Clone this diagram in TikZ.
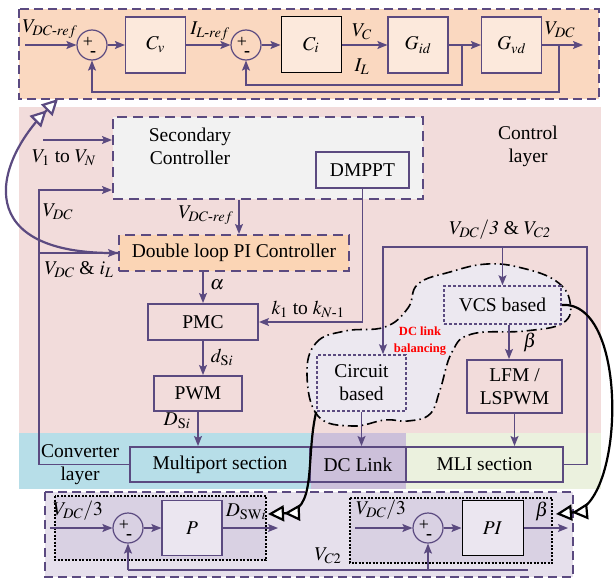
\documentclass[tikz,border=0pt]{standalone}
\usepackage{amsmath}
\usepackage{mathptmx}
\usepackage{fontspec}
\setmainfont{Liberation Serif}
\usetikzlibrary{arrows.meta}
\definecolor{linepurple}{HTML}{5B4A80}
\definecolor{peach}{HTML}{FAD8C0}
\definecolor{tfbox}{HTML}{FCE9DC}
\definecolor{pinkbg}{HTML}{F2DCDB}
\definecolor{secgray}{HTML}{F2F2F2}
\definecolor{orangebox}{HTML}{FBD5B5}
\definecolor{cyanbg}{HTML}{B7DEE8}
\definecolor{lilacbg}{HTML}{CCC0DA}
\definecolor{greenbg}{HTML}{EBF1DE}
\definecolor{blobfill}{HTML}{ECE8F0}
\definecolor{botfill}{HTML}{E6E0EC}
\definecolor{innerfill}{HTML}{D9D1E3}
\definecolor{pbox}{HTML}{EBE6F0}

\begin{document}
\begin{tikzpicture}[x=1pt,y=-1pt,
  font=\fontsize{19.5}{23}\selectfont,
  arr/.style={draw=linepurple,line width=1.3pt,-{Stealth[length=10pt,width=8pt,inset=2pt]}},
  blk/.style={draw=linepurple,line width=2pt,fill=pinkbg,minimum height=35pt,inner sep=0pt},
  tf/.style={draw=linepurple,line width=1.2pt,fill=tfbox,minimum width=60pt,minimum height=56pt,inner sep=0pt},
  sum/.style={circle,draw=linepurple,line width=1.2pt,minimum size=30pt,inner sep=0pt},
  sign/.style={inner sep=0pt,font=\fontsize{18}{20}\selectfont},
  cloudbox/.style={draw=linepurple,line width=1.6pt,dash pattern=on 3pt off 2pt,fill=blobfill,inner sep=0pt,align=center},
  link/.style={line width=2.2pt,-{Triangle[fill=white,length=16pt,width=16pt]Triangle[fill=white,length=16pt,width=16pt]}},
  frame/.style={draw=linepurple,line width=1.6pt,dash pattern=on 9pt off 5pt}]
  \useasboundingbox (0,0) rectangle (616,578);
  \draw[frame,fill=peach] (19,9) rectangle (599,99);
  \node[sum] (s1) at (92,45) {};
  \node[tf] (cv) at (155.5,45) {$C_v$};
  \node[sum] (s2) at (246,45) {};
  \node[tf,draw=black,line width=1pt] (ci) at (311,45) {$C_i$};
  \node[tf] (gid) at (418,45) {$G_{id}$};
  \node[tf] (gvd) at (511.5,45) {$G_{vd}$};
  \coordinate (vin) at (25,45);
  \coordinate (vout) at (583,45);
  \coordinate (fbi) at (462,85);
  \coordinate (fbv) at (559,92);
  \draw[arr] (vin) -- (s1);
  \draw[arr] (s1) -- (cv);
  \draw[arr] (cv) -- (s2);
  \draw[arr] (s2) -- (ci);
  \draw[arr] (ci) -- (gid);
  \draw[arr] (gid) -- (gvd);
  \draw[arr] (gvd) -- (vout);
  \draw[arr] (fbi |- gid) -- (fbi) -| (s2);
  \draw[arr] (fbv |- gvd) -- (fbv) -| (s1);
  \node (lvref) at (50,29) {$V_{DC\text{-}ref}$};
  \node (lilref) at (210,31) {$I_{L\text{-}ref}$};
  \node (lvc) at (362,32) {$V_C$};
  \node (lil) at (362,67) {$I_L$};
  \node (lvdc) at (560,30) {$V_{DC}$};

  \fill[pinkbg] (19,107) rectangle (601,433);
  \fill[cyanbg] (19,433) rectangle (311,489);
  \fill[lilacbg] (311,433) rectangle (406,489);
  \fill[greenbg] (406,433) rectangle (601,489);
  \draw[black,line width=1.6pt,dash pattern=on 10pt off 4pt on 1.5pt off 4pt,fill=blobfill] plot[smooth cycle,tension=0.7]
    coordinates {(307,375) (316,343) (345,331) (385,327) (408,308) (418,284) (450,272) (487,264) (522,268) (556,281) (570,302) (563,323) (525,331) (472,334) (452,352) (440,390) (430,414) (408,421) (385,420) (352,426) (318,416)};
  \node[text=red,font={\fontsize{12.5}{17}\selectfont\bfseries},align=center] (bal) at (420,341) {DC link\\balancing};
  \node[draw=linepurple,line width=2pt,dash pattern=on 10pt off 6pt,fill=secgray,minimum width=310pt,minimum height=82pt] (sec) at (268,158) {};
  \node[align=center] (sectext) at (190,146) {Secondary\\Controller};
  \node[blk,fill=secgray,minimum width=93pt,minimum height=36pt] (dmppt) at (362.5,170) {DMPPT};
  \node[align=center] (ctrl) at (528,146) {Control\\layer};
  \node[blk,fill=orangebox,dash pattern=on 10pt off 6pt,minimum width=230pt,minimum height=36pt] (dloop) at (234,253) {Double loop PI Controller};
  \node[blk,minimum width=110pt,minimum height=36pt] (pmc) at (203,322) {PMC};
  \node[blk,minimum width=88pt] (pwm) at (198,393.5) {PWM};
  \node[blk,fill=cyanbg,minimum width=180pt] (multi) at (220,464.5) {Multiport section};
  \node[blk,fill=lilacbg,minimum width=96pt] (dclink) at (358,464.5) {DC Link};
  \node[blk,fill=greenbg,minimum width=157pt] (mli) at (484.5,464.5) {MLI section};
  \node[cloudbox,minimum width=117pt,minimum height=38pt] (vcs) at (502.5,305) {VCS based};
  \node[cloudbox,minimum width=89pt,minimum height=56pt] (circ) at (361.5,383) {Circuit\\based};
  \node[blk,align=center,minimum width=95pt,minimum height=53pt] (lfm) at (514.5,386.5) {LFM /\\LSPWM};
  \node[align=center] (convl) at (80,465) {Converter\\layer};
  \coordinate (v1in) at (43,140);
  \coordinate (vfb) at (39,190);
  \coordinate (rtop) at (587,247);
  \coordinate (ltop) at (383,247);
  \draw[arr] (v1in) -- (v1in -| sec.west);
  \draw[arr] (multi.west) -| (vfb) -- (vfb -| sec.west);
  \draw[arr] (vfb |- dloop.west) -- (dloop.west);
  \draw[arr] (sec.south -| 239,0) -- (dloop.north -| 239,0);
  \draw[arr] (pmc.north |- dloop.south) -- (pmc.north);
  \draw[arr] (dmppt.south) |- (pmc.east);
  \draw[arr] (pmc.south) -- (pmc.south |- pwm.north);
  \draw[arr] (pwm.south) -- (pwm.south |- multi.north);
  \draw[arr] (mli.east) -| (rtop) -- (ltop) -- (ltop |- circ.north);
  \draw[arr] (vcs.north |- ltop) -- (vcs.north);
  \draw[arr] (vcs.south -| 509,0) -- (lfm.north -| 509,0);
  \draw[arr] (lfm.south) -- (lfm.south |- mli.north);
  \draw[arr] (circ.south) -- (circ.south |- dclink.north);
  \node (lv1) at (64,158) {$V_1$ to $V_N$};
  \node (lvdcfb) at (58,212) {$V_{DC}$};
  \node (lvdcil) at (79,270) {$V_{DC}$ \& $i_L$};
  \node (lvref2) at (206,215) {$V_{DC\text{-}ref}$};
  \node (lalpha) at (217,285) {$\alpha$};
  \node (lk) at (308,309) {$k_1$ to $k_{N\text{-}1}$};
  \node (ldsi) at (222,357) {$d_{\mathrm{S}i}$};
  \node (lDsi) at (177,421) {$D_{\mathrm{S}i}$};
  \node (lvdc3) at (500,230) {$V_{DC}/\mathit{3}$ \& $V_{C\mathit{2}}$};
  \node (lbeta) at (530,342) {$\beta$};

  \draw[frame,fill=botfill] (45,492) rectangle (573,577);
  \draw[black,line width=1.3pt,dash pattern=on 2pt off 1.5pt,fill=innerfill] (55,496) rectangle (266,560);
  \draw[black,line width=1.3pt,dash pattern=on 2pt off 1.5pt,fill=innerfill] (350,498) rectangle (552,563);
  \node[sum] (c1) at (128,528) {};
  \node[tf,fill=pbox,minimum height=55pt] (pbx) at (192,528) {$P$};
  \node[sum] (c2) at (428,528) {};
  \node[tf,draw=black,line width=1pt,fill=pbox,minimum width=61pt,minimum height=55pt] (pibx) at (492.5,528) {$PI$};
  \coordinate (pin) at (50,528);
  \coordinate (pout) at (278,528);
  \coordinate (piin) at (355,528);
  \coordinate (piout) at (568,528);
  \coordinate (vc2) at (528,570);
  \draw[arr] (pin) -- (c1);
  \draw[arr] (c1) -- (pbx);
  \draw[arr] (pbx) -- (pout);
  \draw[arr] (piin) -- (c2);
  \draw[arr] (c2) -- (pibx);
  \draw[arr] (pibx) -- (piout);
  \draw[draw=linepurple,line width=1.3pt] (vc2) -- (vc2 -| c1);
  \draw[arr] (vc2 -| c1) -- (c1);
  \draw[arr] (vc2 -| c2) -- (c2);
  \node (lpin) at (78,511) {$V_{DC}/3$};
  \node (lpiin) at (381,510) {$V_{DC}/3$};
  \node (ldsw) at (246,512) {$D_{\mathrm{SW}i}$};
  \node (lbeta2) at (542,511) {$\beta$};
  \node (lvc2) at (328,556) {$V_{C2}$};
  \foreach \s in {s1,s2,c1,c2} {
    \node[sign] (\s p) at ([shift={(-4,-3)}]\s.center) {+};
    \node[sign] (\s m) at ([shift={(1,9)}]\s.center) {\textbf{-}};
  }

  \coordinate (topin) at (58,99);
  \coordinate (dswtip) at (268,514);
  \coordinate (betatip) at (556,514);
  \draw[link,draw=linepurple] (dloop.west) .. controls (-28,255) and (-8,165) .. (topin);
  \draw[link,black] (circ.south west) .. controls (305,460) and (318,512) .. (dswtip);
  \draw[link,black] (vcs.east) .. controls (630,300) and (625,508) .. (betatip);
\end{tikzpicture}
\end{document}
